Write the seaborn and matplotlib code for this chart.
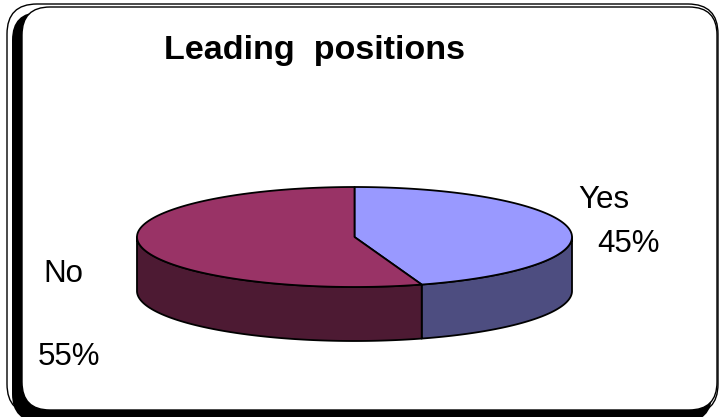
import numpy as np
import matplotlib
matplotlib.use("Agg")
import matplotlib.pyplot as plt
from matplotlib.patches import Polygon, FancyBboxPatch
import seaborn as sns

# Survey answers
labels = ["Yes", "No"]
shares = [45, 55]
pct_labels = ["45%", "55%"]
top_colors = ["#9999FF", "#993366"]
side_colors = ["#4D4D80", "#4D1A33"]

sns.set_theme(style="white")
plt.rcParams["font.family"] = ["Liberation Sans", "DejaVu Sans"]

W, H = 724, 417
fig = plt.figure(figsize=(W / 100, H / 100), dpi=100)
ax = fig.add_axes([0, 0, 1, 1])
ax.set_xlim(0, W)
ax.set_ylim(H, 0)
ax.axis("off")

# Framed chart area with a heavy drop shadow
outer = FancyBboxPatch((7, 4), 711, 410, boxstyle="round,pad=0,rounding_size=30",
                       facecolor="white", edgecolor="black", lw=1.0, zorder=1)
shadow = FancyBboxPatch((12, 12), 700, 410, boxstyle="round,pad=0,rounding_size=28",
                        facecolor="black", edgecolor="black", lw=0, zorder=2)
panel = FancyBboxPatch((22, 7), 695, 403, boxstyle="round,pad=0,rounding_size=28",
                       facecolor="white", edgecolor="black", lw=1.0, zorder=3)
for p in (outer, shadow, panel):
    ax.add_patch(p)

# 3-D pie geometry (pixel units, y down)
cx, cy, a, b, depth = 354.5, 237.0, 217.5, 50.0, 54.0


def rim(t0, t1, n=200, dy=0.0):
    t = np.radians(np.linspace(t0, t1, n))
    return np.column_stack([cx + a * np.cos(t), cy - b * np.sin(t) + dy])


# slice angles, clockwise from 12 o'clock
bounds = [90.0]
for s in shares:
    bounds.append(bounds[-1] - 360.0 * s / sum(shares))

# visible front walls (lower half of the ellipse)
for i in range(len(shares)):
    t_start, t_end = bounds[i], bounds[i + 1]
    lo = max(t_end, -180.0)
    hi = min(t_start, 0.0)
    if hi <= lo:
        lo, hi = max(t_end + 360, -180.0), min(t_start + 360, 0.0)
    if hi > lo:
        top = rim(hi, lo)
        bot = rim(lo, hi, dy=depth)
        ax.add_patch(Polygon(np.vstack([top, bot]), closed=True,
                             facecolor=side_colors[i], edgecolor="black",
                             lw=1.3, joinstyle="round", zorder=4))

# top faces
for i in range(len(shares)):
    arc = rim(bounds[i], bounds[i + 1])
    pts = np.vstack([[cx, cy], arc])
    ax.add_patch(Polygon(pts, closed=True, facecolor=top_colors[i],
                         edgecolor="black", lw=1.3, joinstyle="round", zorder=5))

# title and data labels
ax.text(164, 59, "Leading  positions", fontsize=24.6, fontweight="bold",
        ha="left", va="baseline", color="black", zorder=6)

label_pos = {"Yes": (578, 208), "No": (43, 282)}
pct_pos = {"Yes": (597, 252), "No": (38, 365)}
for lab, pct in zip(labels, pct_labels):
    x, y = label_pos[lab]
    ax.text(x, y, lab, fontsize=22.5, ha="left", va="baseline", color="black", zorder=6)
    x, y = pct_pos[lab]
    ax.text(x, y, pct, fontsize=22.5, ha="left", va="baseline", color="black", zorder=6)

fig.savefig("out.png", dpi=100)
